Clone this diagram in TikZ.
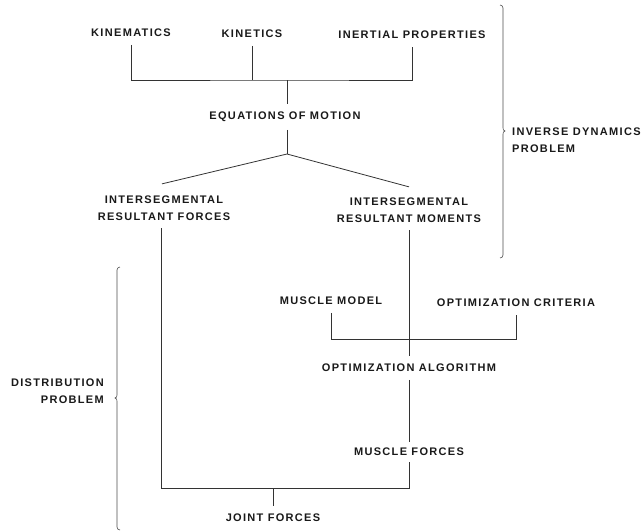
\documentclass[tikz,border=0pt]{standalone}
\usepackage{fontspec}
\newfontfamily\capsfont[LetterSpace=12]{Liberation Sans}
\tikzset{
  lbl/.style={font=\capsfont\bfseries\fontsize{11}{16.5}\selectfont, text=black!90, inner sep=0pt, outer ysep=8pt, align=center},
  conn/.style={line width=0.8pt, black!80},
  brace/.style={line width=0.6pt, black!70}
}
\begin{document}
\begin{tikzpicture}[x=1pt,y=-1pt]
		\useasboundingbox (0,0) rectangle (644,531);
		\path (131,33) node(kinem)[lbl]{KINEMATICS}
		(252,34) node(kinet)[lbl]{KINETICS}
		(412,35) node(inert)[lbl]{INERTIAL PROPERTIES}
		(285,117) node(eqn)[lbl]{EQUATIONS OF MOTION}
		(164,208) node(forces)[lbl]{INTERSEGMENTAL\\RESULTANT FORCES}
		(409,210) node(moments)[lbl]{INTERSEGMENTAL\\RESULTANT MOMENTS}
		(331,301) node(mmodel)[lbl]{MUSCLE MODEL}
		(516,303) node(crit)[lbl]{OPTIMIZATION CRITERIA}
		(409,368) node(optalg)[lbl]{OPTIMIZATION ALGORITHM}
		(409,452) node(mforces)[lbl,outer ysep=6pt]{MUSCLE FORCES}
		(273,518) node(joint)[lbl]{JOINT FORCES}
		(512,140) node(invdyn)[lbl,anchor=west,align=left]{INVERSE DYNAMICS\\PROBLEM}
		(104,391) node(distr)[lbl,anchor=east,align=right]{DISTRIBUTION\\PROBLEM};
		\coordinate (top) at (287,80);
		\coordinate (fork) at (287,154);
		\coordinate (mid) at (409,339);
		\coordinate (bot) at (273,488);
		\draw[conn] (kinem.south) |- (top) -| (inert.south);
		\draw[conn] (kinet.south) -- (kinet.south |- top);
		\draw[conn] (top) -- (top |- eqn.north);
		\draw[conn] (top |- eqn.south) -- (fork);
		\draw[conn] (fork) -- ([xshift=-2pt,yshift=4pt]forces.north);
		\draw[conn] (fork) -- ([yshift=3pt]moments.north);
		\draw[conn] (moments.south) -- (optalg.north);
		\draw[conn] (mmodel.south) |- (mid) -| (crit.south);
		\draw[conn] (optalg.south) -- (mforces.north);
		\draw[conn] ([xshift=-3pt]forces.south) |- (bot) -| (mforces.south);
		\draw[conn] (bot) -- (joint.north);
		\draw[brace] (500,5) to[out=0,in=90] (503,8) -- (503,128) to[out=-90,in=180] (505,131) to[out=180,in=90] (503,134) -- (503,255) to[out=-90,in=0] (500,258);
		\draw[brace] (120,267) to[out=180,in=90] (117,270) -- (117,395) to[out=-90,in=0] (115,398) to[out=0,in=90] (117,401) -- (117,527) to[out=-90,in=180] (120,530);
	\end{tikzpicture}
\end{document}
